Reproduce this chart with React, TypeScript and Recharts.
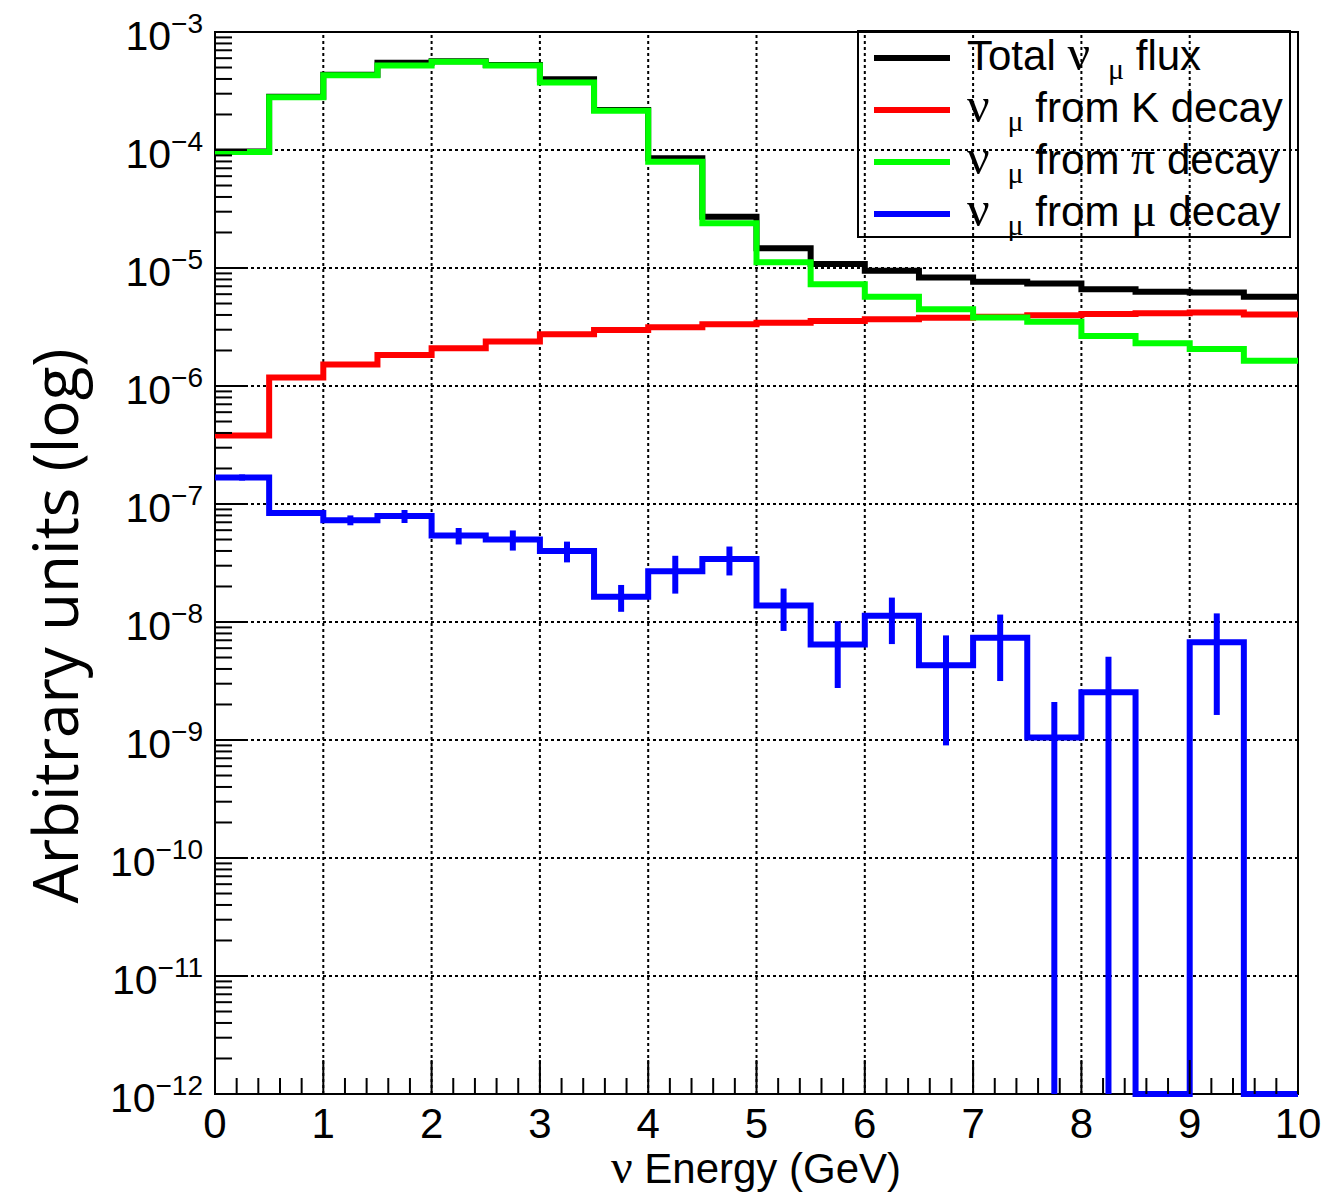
import React from "react";
import {
  ComposedChart,
  Line,
  XAxis,
  YAxis,
  ReferenceLine,
  ReferenceArea,
  Customized,
} from "recharts";

// bin low edges (GeV), 0.5 GeV wide
const BIN_LO = [0, 0.5, 1, 1.5, 2, 2.5, 3, 3.5, 4, 4.5, 5, 5.5, 6, 6.5, 7, 7.5, 8, 8.5, 9, 9.5];
const X_MAX = 10;

const TOTAL = [
  9.7e-5, 2.82e-4, 4.35e-4, 5.5e-4, 5.65e-4, 5.25e-4, 3.98e-4, 2.18e-4, 8.5e-5, 2.72e-5,
  1.47e-5, 1.08e-5, 9.5e-6, 8.3e-6, 7.65e-6, 7.4e-6, 6.6e-6, 6.3e-6, 6.2e-6, 5.7e-6,
];
const KAON = [
  3.8e-7, 1.18e-6, 1.52e-6, 1.83e-6, 2.09e-6, 2.38e-6, 2.74e-6, 2.98e-6, 3.14e-6, 3.33e-6,
  3.44e-6, 3.56e-6, 3.67e-6, 3.79e-6, 3.87e-6, 3.98e-6, 4.07e-6, 4.13e-6, 4.19e-6, 4.03e-6,
];
const PION = [
  9.6e-5, 2.8e-4, 4.3e-4, 5.2e-4, 5.6e-4, 5.2e-4, 3.74e-4, 2.15e-4, 7.96e-5, 2.39e-5,
  1.12e-5, 7.3e-6, 5.7e-6, 4.47e-6, 3.8e-6, 3.5e-6, 2.65e-6, 2.3e-6, 2.06e-6, 1.64e-6,
];
const MUON = [
  1.68e-7, 8.4e-8, 7.3e-8, 7.9e-8, 5.4e-8, 5.0e-8, 4.0e-8, 1.64e-8, 2.69e-8, 3.42e-8,
  1.38e-8, 6.46e-9, 1.13e-8, 4.3e-9, 7.36e-9, 1.05e-9, 2.54e-9, 0, 6.73e-9, 0,
];
const MUON_ERR = [
  1.0e-8, 3e-9, 7e-9, 1.0e-8, 8.6e-9, 9.7e-9, 8e-9, 4.2e-9, 9.5e-9, 9.4e-9,
  5.4e-9, 3.7e-9, 4.8e-9, 3.4e-9, 4.2e-9, 1.05e-9, 2.54e-9, 0, 5.1e-9, 0,
];

const Y_MIN = 1e-12;
const Y_MAX = 1e-3;

// legend rows: prefix, parent particle (greek ones drawn in serif)
const SERIES = [
  { key: "total", color: "#000000", pre: "Total ", from: "", greek: false, post: " flux" },
  { key: "kaon", color: "#ff0000", pre: "", from: "K", greek: false, post: " decay" },
  { key: "pion", color: "#00ff00", pre: "", from: "\u03c0", greek: true, post: " decay" },
  { key: "muon", color: "#0000ff", pre: "", from: "\u03bc", greek: true, post: " decay" },
];

// ticks: minor every 0.2 GeV, log minors 2..9 in each decade
const X_TICKS = Array.from({ length: 51 }, (_, i) => i / 5);
const Y_TICKS: number[] = [];
for (let n = -12; n <= -4; n++) {
  for (let k = 1; k <= 9; k++) Y_TICKS.push(Number(`${k}e${n}`));
}
Y_TICKS.push(Y_MAX);

const GRID_X = [1, 2, 3, 4, 5, 6, 7, 8, 9];
const GRID_Y = [1e-11, 1e-10, 1e-9, 1e-8, 1e-7, 1e-6, 1e-5, 1e-4];

const SANS = "'Liberation Sans', Arial, Helvetica, sans-serif";
const GREEK = "'Liberation Serif', 'DejaVu Serif', serif";

const rows = BIN_LO.map((x, i) => ({
  x,
  total: TOTAL[i],
  kaon: KAON[i],
  pion: PION[i],
  muon: Math.max(MUON[i], Y_MIN),
}));
// close the last bin at the right edge
rows.push({ ...rows[rows.length - 1], x: X_MAX });

function XTick({ x, y, payload }: any) {
  const v = payload.value;
  const major = Math.abs(v - Math.round(v)) < 1e-6;
  return (
    <g>
      <line x1={x} x2={x} y1={y} y2={y - (major ? 34 : 16)} stroke="#000" strokeWidth={2} />
      {major && (
        <text x={x} y={y + 44} textAnchor="middle" fontSize={42} fontFamily={SANS} fill="#000">
          {Math.round(v)}
        </text>
      )}
    </g>
  );
}

function YTick({ x, y, payload }: any) {
  const e = Math.log10(payload.value);
  const major = Math.abs(e - Math.round(e)) < 1e-6;
  return (
    <g>
      <line x1={x} x2={x + (major ? 32 : 17)} y1={y} y2={y} stroke="#000" strokeWidth={2} />
      {major && (
        <text x={x - 12} y={y + 18} textAnchor="end" fontSize={41} fontFamily={SANS} fill="#000">
          <tspan>10</tspan>
          <tspan dy={-17} fontSize={28}>
            {"\u2212" + Math.abs(Math.round(e))}
          </tspan>
        </text>
      )}
    </g>
  );
}

function Decorations() {
  return (
    <g>
      <text
        x={70}
        y={618}
        transform="rotate(-90, 70, 618)"
        textAnchor="middle"
        fontSize={62}
        fontFamily="'Open Sans', sans-serif"
        fill="#000"
      >
        Arbitrary units (log)
      </text>
      <text x={748} y={1175} textAnchor="middle" fontSize={42} fontFamily={SANS} fill="#000">
        <tspan fontFamily={GREEK} fontSize={48}>{"\u03bd"}</tspan>
        <tspan> Energy (GeV)</tspan>
      </text>
      <rect x={850} y={23} width={432} height={206} fill="#fff" stroke="#000" strokeWidth={2} />
      {SERIES.map((s, i) => {
        const cy = 50 + i * 52;
        return (
          <g key={s.key}>
            <line x1={866} x2={942} y1={cy} y2={cy} stroke={s.color} strokeWidth={6} />
            <text x={959} y={cy + 12} fontSize={42} fontFamily={SANS} fill="#000">
              {s.pre && <tspan>{s.pre}</tspan>}
              <tspan fontFamily={GREEK} fontSize={50}>{"\u03bd"}</tspan>
              <tspan dx={18} dy={9} fontSize={30} fontFamily={GREEK}>
                {"\u03bc"}
              </tspan>
              {s.from ? (
                <>
                  <tspan dy={-9}> from </tspan>
                  <tspan fontFamily={s.greek ? GREEK : SANS} fontSize={s.greek ? 48 : 42}>
                    {s.from}
                  </tspan>
                  <tspan>{s.post}</tspan>
                </>
              ) : (
                <tspan dy={-9}>{s.post}</tspan>
              )}
            </text>
          </g>
        );
      })}
    </g>
  );
}

export default function App() {
  return (
    <ComposedChart
      width={1327}
      height={1189}
      data={rows}
      margin={{ top: 24, right: 37, bottom: 0, left: 0 }}
    >
      <XAxis
        dataKey="x"
        type="number"
        domain={[0, X_MAX]}
        ticks={X_TICKS}
        interval={0}
        height={103}
        axisLine={false}
        tickLine={false}
        tickSize={0}
        tickMargin={0}
        tick={(p: any) => <XTick {...p} />}
      />
      <YAxis
        type="number"
        scale="log"
        domain={[Y_MIN, Y_MAX]}
        ticks={Y_TICKS}
        interval={0}
        width={207}
        axisLine={false}
        tickLine={false}
        tickSize={0}
        tickMargin={0}
        tick={(p: any) => <YTick {...p} />}
      />
      {GRID_X.map((g) => (
        <ReferenceLine key={`gx${g}`} x={g} stroke="#000" strokeWidth={2} strokeDasharray="3 3" />
      ))}
      {GRID_Y.map((g) => (
        <ReferenceLine key={`gy${g}`} y={g} stroke="#000" strokeWidth={2} strokeDasharray="3 3" />
      ))}
      {SERIES.map((s) => (
        <Line
          key={s.key}
          dataKey={s.key}
          type="stepAfter"
          stroke={s.color}
          strokeWidth={6}
          dot={false}
          activeDot={false}
          isAnimationActive={false}
        />
      ))}
      {MUON.map((v, i) =>
        v > 0 ? (
          <ReferenceLine
            key={`err${i}`}
            segment={[
              { x: BIN_LO[i] + 0.25, y: Math.max(v - MUON_ERR[i], Y_MIN) },
              { x: BIN_LO[i] + 0.25, y: v + MUON_ERR[i] },
            ]}
            stroke="#0000ff"
            strokeWidth={6}
            ifOverflow="visible"
          />
        ) : null
      )}
      <ReferenceArea
        x1={0}
        x2={X_MAX}
        y1={Y_MIN}
        y2={Y_MAX}
        fill="none"
        fillOpacity={0}
        stroke="#000"
        strokeWidth={2}
      />
      <Customized component={Decorations} />
    </ComposedChart>
  );
}
